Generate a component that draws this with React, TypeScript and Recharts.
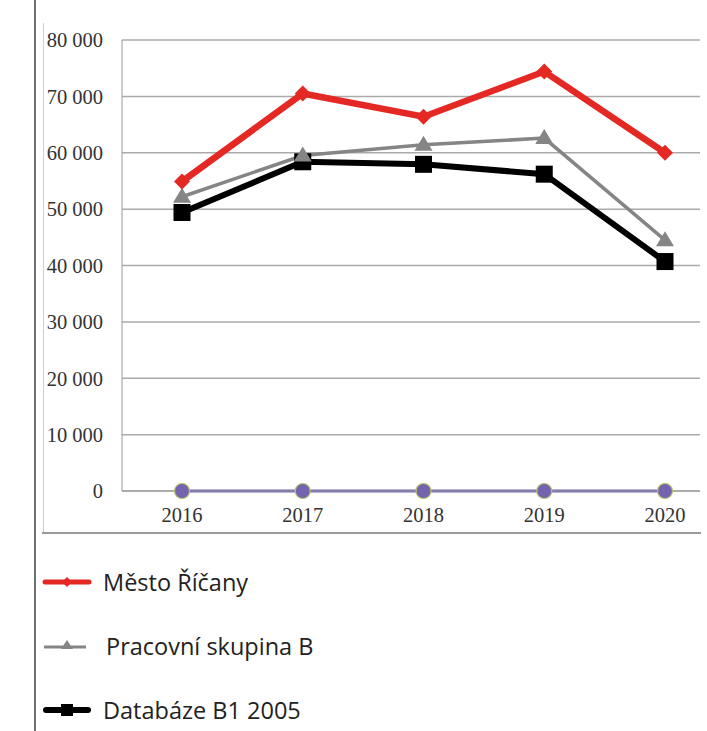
import React from "react";
import {
  LineChart, Line, XAxis, YAxis, CartesianGrid, Legend,
} from "recharts";

// Values
const YEARS = ["2016", "2017", "2018", "2019", "2020"];
const MESTO_RICANY = [54900, 70500, 66400, 74400, 60000];
const PRACOVNI_SKUPINA_B = [52200, 59500, 61400, 62600, 44500];
const DATABAZE_B1_2005 = [49400, 58400, 57950, 56200, 40700];
const OSTATNI = [0, 0, 0, 0, 0];
const Y_TICKS = [0, 10000, 20000, 30000, 40000, 50000, 60000, 70000, 80000];

const SERIES_NAMES: Record<string, string> = {
  mesto: "Město Říčany",
  skupina: "Pracovní skupina B",
  databaze: "Databáze B1 2005",
};
const LEGEND_ORDER = ["mesto", "skupina", "databaze"];

const RED = "#e42824";
const GRAY = "#858585";
const BLACK = "#000000";
const PURPLE = "#7563b0";

const data = YEARS.map((year, i) => ({
  year,
  mesto: MESTO_RICANY[i],
  skupina: PRACOVNI_SKUPINA_B[i],
  databaze: DATABAZE_B1_2005[i],
  ostatni: OSTATNI[i],
}));

const fmt = (v: number) => String(v).replace(/\B(?=(\d{3})+(?!\d))/g, " ");

type DotProps = { cx?: number; cy?: number; index?: number };

function Diamond({ cx = 0, cy = 0, index }: DotProps) {
  const s = 8;
  return (
    <polygon key={`d${index}`} fill={RED}
      points={`${cx},${cy - s} ${cx + s},${cy} ${cx},${cy + s} ${cx - s},${cy}`} />
  );
}

function Triangle({ cx = 0, cy = 0, index }: DotProps) {
  const w = 9, h = 15;
  return (
    <polygon key={`t${index}`} fill={GRAY}
      points={`${cx},${cy - h * 0.6} ${cx + w},${cy + h * 0.4} ${cx - w},${cy + h * 0.4}`} />
  );
}

function Square({ cx = 0, cy = 0, index }: DotProps) {
  const s = 8.5;
  return <rect key={`s${index}`} x={cx - s} y={cy - s} width={s * 2} height={s * 2} fill={BLACK} />;
}

function Circle({ cx = 0, cy = 0, index }: DotProps) {
  return <circle key={`c${index}`} cx={cx} cy={cy} r={7.5} fill={PURPLE} stroke="#b8c46c" strokeWidth={1.2} />;
}

// small line+marker sample used in the legend
function LegendIcon({ kind }: { kind: string }) {
  if (kind === "mesto") {
    return (
      <svg width={50} height={20}>
        <line x1={3} y1={10} x2={47} y2={10} stroke={RED} strokeWidth={5} strokeLinecap="round" />
        <polygon points="25,5 30,10 25,15 20,10" fill={RED} />
      </svg>
    );
  }
  if (kind === "skupina") {
    return (
      <svg width={50} height={20}>
        <line x1={2} y1={11} x2={44} y2={11} stroke={GRAY} strokeWidth={3} />
        <polygon points="25,4 31,13 19,13" fill={GRAY} />
      </svg>
    );
  }
  return (
    <svg width={50} height={20}>
      <line x1={4} y1={10} x2={46} y2={10} stroke={BLACK} strokeWidth={6} strokeLinecap="round" />
      <rect x={19} y={4} width={12} height={12} fill={BLACK} />
    </svg>
  );
}

function LegendContent() {
  return (
    <div style={{ display: "flex", flexDirection: "column" }}>
      {LEGEND_ORDER.map((key) => (
        <div key={key} style={{ display: "flex", alignItems: "center", height: 64 }}>
          <LegendIcon kind={key} />
          <span style={{
            marginLeft: key === "skupina" ? 14 : 11,
            fontFamily: "'Open Sans', 'Noto Sans', sans-serif",
            fontSize: 23.5, lineHeight: "28px", color: "#222",
          }}>
            {SERIES_NAMES[key]}
          </span>
        </div>
      ))}
    </div>
  );
}

const tickStyle = { fill: "#333", fontSize: 20.5, fontFamily: "'Liberation Serif', 'Times New Roman', serif" };

export default function App() {
  return (
    <div style={{ position: "absolute", left: 0, top: 0, width: 707, height: 731, background: "#fff", overflow: "hidden" }}>
      {/* page frame lines */}
      <div style={{ position: "absolute", left: 34, top: 0, width: 2, height: 731, background: "#6f6f6f" }} />
      <div style={{ position: "absolute", left: 43, top: 23, width: 1, height: 510, background: "#cfcfcf" }} />
      <div style={{ position: "absolute", left: 42, top: 532, width: 659, height: 2, background: "#9a9a9a" }} />

      <LineChart
        width={707}
        height={731}
        data={data}
        margin={{ top: 40, right: 7, left: 42, bottom: 210 }}
        style={{ position: "absolute", left: 0, top: 0 }}
      >
        <CartesianGrid vertical={false} stroke="#aaaaaa" strokeWidth={1.5} />
        <XAxis
          dataKey="year"
          height={30}
          padding={{ left: 60, right: 35 }}
          tickLine={false}
          tickSize={0}
          tickMargin={16}
          axisLine={{ stroke: "#999" }}
          tick={tickStyle}
        />
        <YAxis
          width={80}
          domain={[0, 80000]}
          ticks={Y_TICKS}
          interval={0}
          tickFormatter={fmt}
          tickLine={false}
          tickSize={0}
          tickMargin={19}
          axisLine={{ stroke: "#999" }}
          tick={tickStyle}
        />
        <Legend
          layout="vertical"
          align="center"
          verticalAlign="middle"
          wrapperStyle={{ position: "absolute", left: 42, top: 550, width: 400 }}
          content={<LegendContent />}
        />
        <Line
          dataKey="ostatni"
          name="Ostatní"
          stroke={PURPLE}
          strokeWidth={3}
          dot={(p: DotProps) => <Circle {...p} />}
          legendType="none"
          isAnimationActive={false}
        />
        <Line
          dataKey="databaze"
          name={SERIES_NAMES.databaze}
          stroke={BLACK}
          strokeWidth={6}
          dot={(p: DotProps) => <Square {...p} />}
          isAnimationActive={false}
        />
        <Line
          dataKey="skupina"
          name={SERIES_NAMES.skupina}
          stroke={GRAY}
          strokeWidth={3.5}
          dot={(p: DotProps) => <Triangle {...p} />}
          isAnimationActive={false}
        />
        <Line
          dataKey="mesto"
          name={SERIES_NAMES.mesto}
          stroke={RED}
          strokeWidth={6.5}
          dot={(p: DotProps) => <Diamond {...p} />}
          isAnimationActive={false}
        />
      </LineChart>
    </div>
  );
}
